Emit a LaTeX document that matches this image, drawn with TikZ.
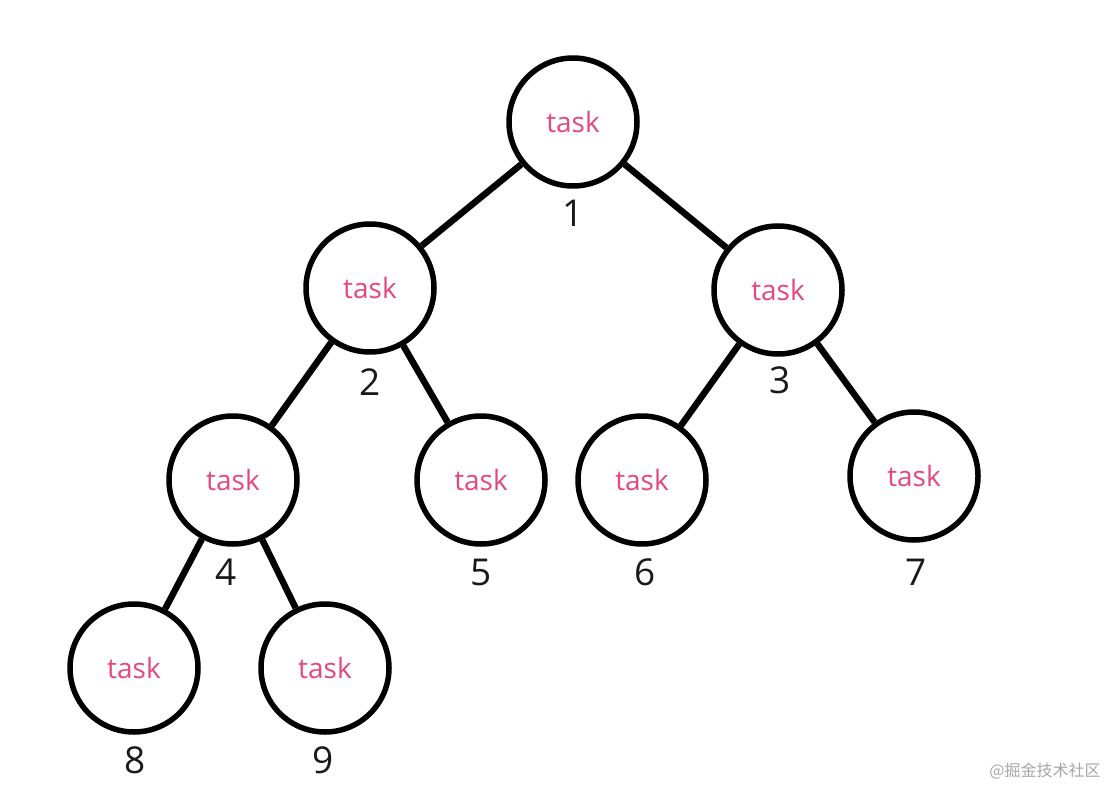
\documentclass[tikz,border=0pt]{standalone}
\usepackage{fontspec}
\setmainfont{Open Sans}
\newfontfamily\cjkfont{Noto Sans CJK SC}
\usepackage{tikz}
\usetikzlibrary{positioning}
\definecolor{taskpink}{RGB}{229,72,127}
\tikzset{
  task/.style={circle, draw=black, line width=5.5pt, fill=white,
    minimum size=128pt, inner sep=0pt, text=taskpink, font=\fontsize{28}{30}\selectfont},
  link/.style={line width=6.5pt, black},
  num/.style={font=\fontsize{37}{40}\selectfont, text=black!90, inner sep=0pt},
  watermark/.style={font=\cjkfont\fontsize{16}{18}\selectfont, text=black!35, inner sep=0pt}
}
\begin{document}
\begin{tikzpicture}[x=1pt,y=-1pt]
  \useasboundingbox (0,0) rectangle (1113,791);

  % heap as a tree of tasks
  \node[task] (t1) at (573,122) {task};
  \node[task] (t2) at (370,288) {task};
  \node[task] (t3) at (778,290) {task};
  \node[task] (t4) at (233,480) {task};
  \node[task] (t5) at (481,480) {task};
  \node[task] (t6) at (642,480) {task};
  \node[task] (t7) at (914,476) {task};
  \node[task] (t8) at (134,668) {task};
  \node[task] (t9) at (325,668) {task};

  \draw[link] (t1) -- (t2);
  \draw[link] (t1) -- (t3);
  \draw[link] (t2) -- (t4);
  \draw[link] (t2) -- (t5);
  \draw[link] (t3) -- (t6);
  \draw[link] (t3) -- (t7);
  \draw[link] (t4) -- (t8);
  \draw[link] (t4) -- (t9);

  % indices
  \node[num] (n1) at (573,213) {1};
  \node[num] (n2) at (370,382) {2};
  \node[num] (n3) at (780,380) {3};
  \node[num] (n4) at (226,572) {4};
  \node[num] (n5) at (481,572) {5};
  \node[num] (n6) at (645,572) {6};
  \node[num] (n7) at (916,572) {7};
  \node[num] (n8) at (135,760) {8};
  \node[num] (n9) at (323,760) {9};

  \node[watermark] (wm) at (1045,771) {@掘金技术社区};
\end{tikzpicture}
\end{document}
